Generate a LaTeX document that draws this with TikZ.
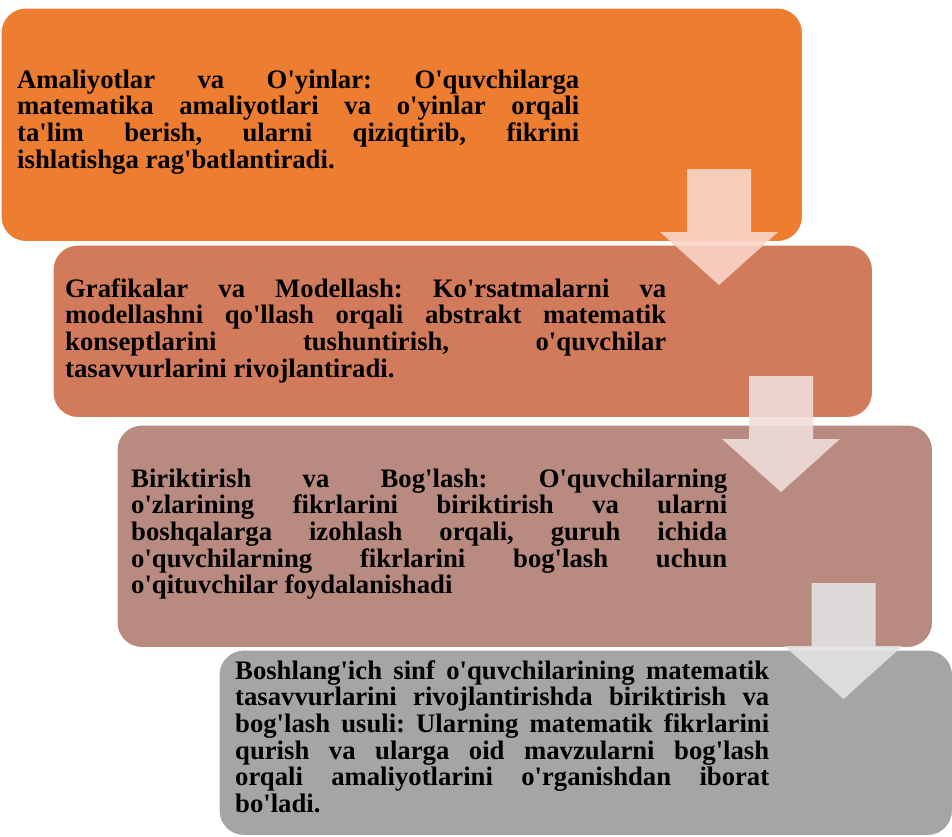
\documentclass[tikz,border=0pt]{standalone}
\usepackage{fontspec}
\newfontfamily\boxfont{Liberation Serif}
\usepackage{tikz}
\usepackage{xcolor}

\definecolor{stageA}{HTML}{ED7D31}
\definecolor{stageB}{HTML}{D27B5C}
\definecolor{stageC}{HTML}{B98A80}
\definecolor{stageD}{HTML}{A5A5A5}
\definecolor{arrA}{HTML}{F9D5C7}
\definecolor{arrB}{HTML}{EFDDDB}
\definecolor{arrC}{HTML}{E2E3E3}

\begin{document}
\begin{tikzpicture}[
  x=1pt, y=-1pt,
  stage/.style={rectangle, draw=white, line width=1.5pt, rounded corners=25pt, anchor=north west, inner sep=0pt},
  stagetext/.style={anchor=base west, inner sep=0pt, align=justify, font=\boxfont\bfseries\fontsize{26.7}{26.7}\selectfont\frenchspacing},
  flow/.style={opacity=0.9}
]
\clip (0,0) rectangle (952,836);
\node[stage, fill=stageA, minimum width=802pt, minimum height=234pt] (box1) at (0,7) {};
\node[stage, fill=stageB, minimum width=820pt, minimum height=173pt] (box2) at (52,244) {};
\node[stage, fill=stageC, minimum width=816pt, minimum height=223pt] (box3) at (116,424) {};
\node[stage, fill=stageD, minimum width=734pt, minimum height=186pt] (box4) at (218,649) {};

\node[stagetext, text width=562pt] (txt1) at (17,88) {Amaliyotlar va O'yinlar: O'quvchilarga\linebreak matematika amaliyotlari va o'yinlar orqali\linebreak ta'lim berish, ularni qiziqtirib, fikrini\linebreak ishlatishga rag'batlantiradi.};
\node[stagetext, text width=601pt] (txt2) at (65,297) {Grafikalar va Modellash: Ko'rsatmalarni va\linebreak modellashni qo'llash orqali abstrakt matematik\linebreak konseptlarini tushuntirish, o'quvchilar\linebreak tasavvurlarini rivojlantiradi.};
\node[stagetext, text width=596pt] (txt3) at (131,487) {Biriktirish va Bog'lash: O'quvchilarning\linebreak o'zlarining fikrlarini biriktirish va ularni\linebreak boshqalarga izohlash orqali, guruh ichida\linebreak o'quvchilarning fikrlarini bog'lash uchun\linebreak o'qituvchilar foydalanishadi};
\node[stagetext, text width=534pt] (txt4) at (235,679) {Boshlang'ich sinf o'quvchilarining matematik\linebreak tasavvurlarini rivojlantirishda biriktirish va\linebreak bog'lash usuli: Ularning matematik fikrlarini\linebreak qurish va ularga oid mavzularni bog'lash\linebreak orqali amaliyotlarini o'rganishdan iborat\linebreak bo'ladi.};

% block arrows between the stages
\foreach \cx/\ty/\col in {719/169/arrA, 781/376/arrB, 843.5/583/arrC}
  \fill[flow, fill=\col] (\cx-32,\ty) -- (\cx+32,\ty) -- (\cx+32,\ty+63) -- (\cx+59,\ty+63)
    -- (\cx,\ty+116) -- (\cx-59,\ty+63) -- (\cx-32,\ty+63) -- cycle;
\end{tikzpicture}
\end{document}
